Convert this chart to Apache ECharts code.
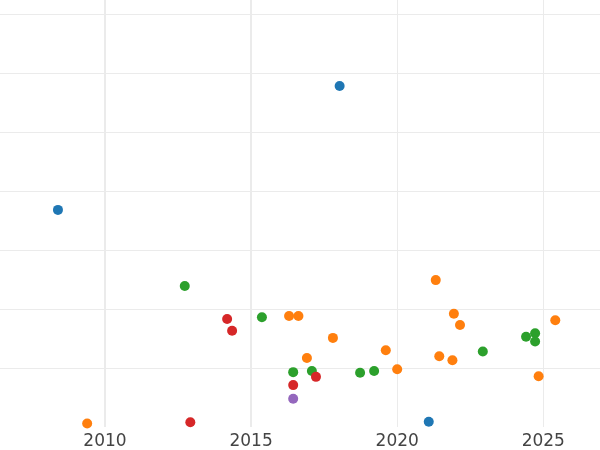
<!DOCTYPE html>
<html>
<head>
<meta charset="utf-8">
<script src="https://cdn.jsdelivr.net/npm/echarts@6/dist/echarts.min.js"></script>
<style>html,body{margin:0;padding:0;background:#fff}#c{width:600px;height:450px}</style>
</head>
<body>
<div id="c"></div>
<script>
const xTicks = [2005, 2010, 2015, 2020, 2025, 2030];
const blue = [[2008.39,3.68],[2018.03,5.78],[2021.08,0.09]];
const orange = [[2009.39,0.06],[2016.30,1.88],[2016.62,1.88],[2017.80,1.51],[2016.91,1.17],[2019.61,1.30],[2020.00,0.98],[2021.32,2.49],[2021.94,1.92],[2022.15,1.73],[2021.44,1.20],[2021.89,1.13],[2024.84,0.86],[2025.41,1.81]];
const green = [[2012.73,2.39],[2015.37,1.86],[2016.44,0.93],[2017.08,0.95],[2018.73,0.92],[2019.21,0.95],[2022.93,1.28],[2024.41,1.53],[2024.72,1.59],[2024.72,1.45]];
const red = [[2012.92,0.08],[2014.18,1.83],[2014.35,1.63],[2017.22,0.85],[2016.44,0.71]];
const purple = [[2016.44,0.48]];
const emphasisLines = [2010, 2015];

const colors = ['#1f77b4','#ff7f0e','#2ca02c','#d62728','#9467bd'];
const groups = [blue, orange, green, red, purple];

const chart = echarts.init(document.getElementById('c'), null, {renderer:'canvas'});
const series = groups.map((d,i)=>({
  type:'scatter',
  data:d,
  symbolSize:10,
  itemStyle:{color:colors[i], opacity:1},
  clip:true,
  z:3
}));
series.push({
  type:'scatter', data:[], silent:true,
  markLine:{silent:true, symbol:['none','none'], label:{show:false},
    lineStyle:{color:'#ebebeb', width:2, type:'solid'},
    data: emphasisLines.map(v=>({xAxis:v}))}
});
chart.setOption({
  animation:false,
  backgroundColor:'#fff',
  grid:{left:-41.1, right:-89.4, top:-45, bottom:23, containLabel:false, outerBoundsMode:'none'},
  xAxis:{type:'value', min:xTicks[0], max:xTicks[xTicks.length-1], interval:5,
    axisLine:{show:false}, axisTick:{show:false},
    axisLabel:{color:'#444', fontSize:17, fontFamily:'DejaVu Sans', margin:6, formatter:v=>String(v)},
    splitLine:{show:true, showMinLine:false, lineStyle:{color:'#ebebeb', width:1}}},
  yAxis:{type:'value', min:0, max:8, interval:1,
    axisLine:{show:false}, axisTick:{show:false}, axisLabel:{show:false},
    splitLine:{show:true, showMinLine:false, lineStyle:{color:'#ebebeb', width:1}}},
  series:series
});
</script>
</body>
</html>
